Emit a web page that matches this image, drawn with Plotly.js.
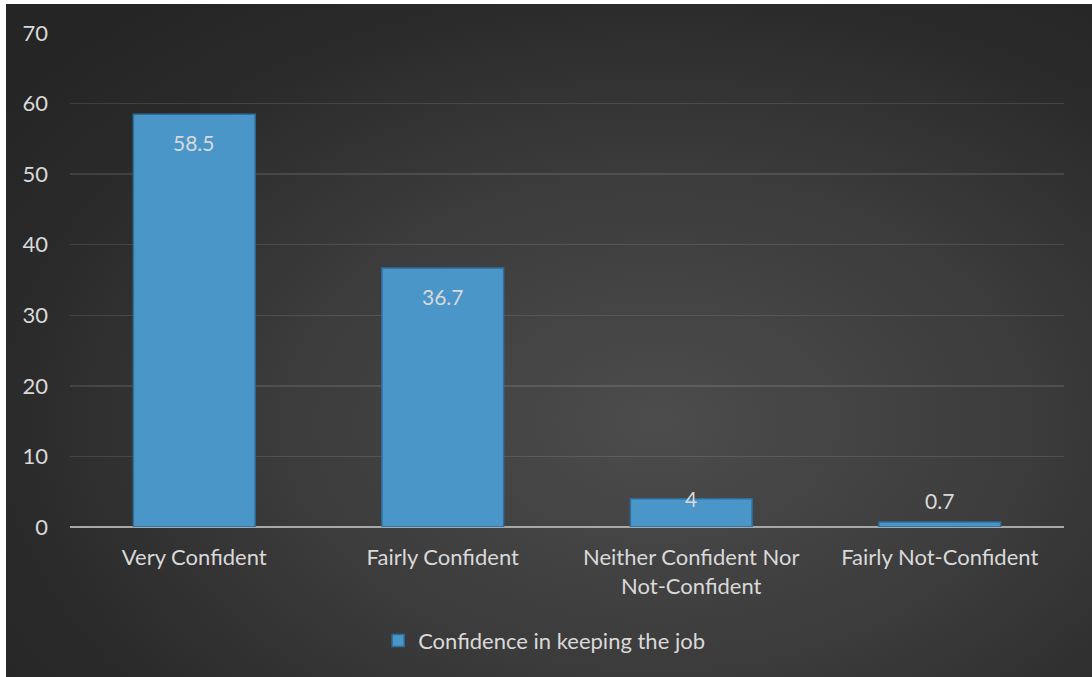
<!DOCTYPE html>
<html>
<head>
<meta charset="utf-8">
<script src="https://cdn.plot.ly/plotly-3.0.1.min.js"></script>
<style>
  html, body { margin: 0; padding: 0; background: #ffffff; }
  #chart {
    position: absolute; left: 6px; top: 4px; width: 1086px; height: 673px;
    background: radial-gradient(ellipse 75% 80% at 60% 62%, #4c4c4c 0%, #3c3c3c 45%, #2a2a2a 80%, #252525 100%);
  }
</style>
</head>
<body>
<div id="chart"></div>
<script>
// Survey: confidence in keeping the job (percent of respondents)
const categories = ["Very Confident", "Fairly Confident", "Neither Confident Nor<br>Not-Confident", "Fairly Not-Confident"];
const values = [58.5, 36.7, 4, 0.7];
const valueLabels = ["58.5", "36.7", "4", "0.7"];
const seriesName = "Confidence in keeping the job";
const yTicks = [0, 10, 20, 30, 40, 50, 60, 70];

// label offset (px) from the bar end: inside for tall bars, on the edge / above for short ones
const labelShift = [-28, -28, 0, 22];

const FONT = "Lato, 'Open Sans', sans-serif";
const TXT = "#d9d9d9";
const FS = 22;

const trace = {
  type: "bar",
  x: categories,
  y: values,
  name: seriesName,
  marker: { color: "#4a96c9", line: { color: "#2d6e9c", width: 1.5 } },
  width: 0.49,
  showlegend: true,
  hoverinfo: "x+y"
};

const annotations = categories.map((c, i) => ({
  x: c,
  y: values[i],
  xref: "x",
  yref: "y",
  text: valueLabels[i],
  showarrow: false,
  yanchor: "middle",
  yshift: labelShift[i],
  font: { family: FONT, size: FS - 1, color: TXT }
}));

const layout = {
  width: 1086,
  height: 673,
  margin: { l: 64, r: 28, t: 29, b: 150 },
  paper_bgcolor: "rgba(0,0,0,0)",
  plot_bgcolor: "rgba(0,0,0,0)",
  font: { family: FONT, size: FS, color: TXT },
  bargap: 0.51,
  annotations: annotations,
  xaxis: {
    type: "category",
    showgrid: false,
    showline: false,
    zeroline: false,
    ticks: "",
    ticklabelstandoff: 15,
    tickfont: { family: FONT, size: FS, color: TXT }
  },
  yaxis: {
    range: [0, 70],
    tickvals: yTicks,
    ticktext: yTicks.map(String),
    showgrid: true,
    gridcolor: "rgba(255,255,255,0.11)",
    gridwidth: 1.5,
    zeroline: true,
    zerolinecolor: "#a8a8a8",
    zerolinewidth: 2,
    showline: false,
    ticks: "",
    ticklabelstandoff: 21,
    tickfont: { family: FONT, size: FS, color: TXT }
  },
  showlegend: true,
  legend: {
    orientation: "h",
    x: 0.477, xanchor: "center",
    y: -0.23, yanchor: "middle",
    itemwidth: 30,
    font: { family: FONT, size: FS, color: TXT },
    bgcolor: "rgba(0,0,0,0)"
  }
};

Plotly.newPlot("chart", [trace], layout, { staticPlot: true, displayModeBar: false });
</script>
</body>
</html>
